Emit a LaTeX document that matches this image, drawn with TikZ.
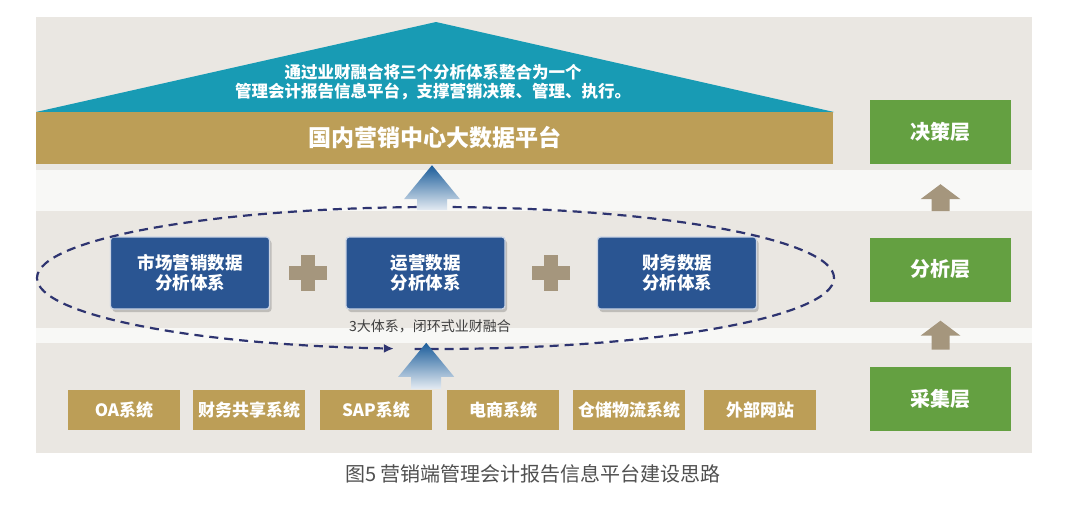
\documentclass[tikz,border=0pt]{standalone}
\usepackage{fontspec}
\setmainfont{Noto Sans CJK SC}
\usetikzlibrary{arrows.meta,shadows,calc}
\definecolor{panelc}{HTML}{EAE7E2}
\definecolor{bandc}{HTML}{F8F8F6}
\definecolor{tealc}{HTML}{189BB4}
\definecolor{goldc}{HTML}{BC9E57}
\definecolor{navyc}{HTML}{2A5592}
\definecolor{greenc}{HTML}{64A041}
\definecolor{taupec}{HTML}{A5967D}
\definecolor{dashc}{HTML}{2E3470}
\definecolor{arrdark}{HTML}{1A5C9A}
\definecolor{arrlight}{HTML}{E4EBF2}
\definecolor{capc}{HTML}{505050}
\newcommand{\blockarrow}[6]{%
  \path[#1] (#2) -- ++({#4},{#3}) -- ++({-(#4)+(#5)},0) -- ++(0,{(#6)-(#3)})
    -- ++({-2*(#5)},0) -- ++(0,{-(#6)+(#3)}) -- ++({-(#4)+(#5)},0) -- cycle;}
\begin{document}
\begin{tikzpicture}[x=1pt,y=-1pt,
  every node/.style={inner sep=0pt},
  platform/.style={fill=goldc, minimum width=797pt, minimum height=52pt, text=white,
     font=\bfseries\fontsize{23}{26}\selectfont},
  anabox/.style={fill=navyc, draw=white!75!navyc, line width=1.3pt, rounded corners=3pt,
     minimum width=159pt, minimum height=72pt, text=white, align=center,
     font=\bfseries\fontsize{17.5}{19.5}\selectfont,
     drop shadow={shadow xshift=2pt, shadow yshift=-3pt, opacity=0.18, fill=black}},
  srcbox/.style={fill=goldc, minimum width=112pt, minimum height=40pt, text=white,
     font=\bfseries\fontsize{17}{19}\selectfont},
  layerbox/.style={fill=greenc, minimum width=141pt, minimum height=64pt, text=white,
     font=\bfseries\fontsize{20}{22}\selectfont},
  loopline/.style={draw=dashc, line width=2.2pt, dash pattern=on 9pt off 6pt},
]
\useasboundingbox (0,0) rectangle (1080,512);
\fill[white] (0,0) rectangle (1080,512);
% panel and bands
\fill[panelc] (36,17) rectangle (1032,453);
\fill[bandc] (36,170) rectangle (1032,211);
\fill[bandc] (36,328) rectangle (1032,343);
% roof
\fill[tealc] (36,112) -- (436,22) -- (834,112) -- cycle;
\node[text=white, align=center, font=\bfseries\fontsize{16.5}{19.5}\selectfont] (roof) at (433,82)
  {通过业财融合将三个分析体系整合为一个\\管理会计报告信息平台，支撑营销决策、管理、执行。};
\node[platform] (platform) at (434.5,138) {国内营销中心大数据平台};
% analysis systems
\node[anabox] (b1) at (190,273) {市场营销数据\\分析体系};
\node[anabox] (b2) at (425.5,273) {运营数据\\分析体系};
\node[anabox] (b3) at (677,273) {财务数据\\分析体系};
\coordinate (p1) at ($(b1.east)!0.5!(b2.west)$);
\coordinate (p2) at ($(b2.east)!0.5!(b3.west)$);
\foreach \p in {p1,p2}{
  \fill[taupec] (\p) ++(-19,-7) rectangle ++(38,14);
  \fill[taupec] (\p) ++(-7,-18) rectangle ++(14,36);
}
% dashed loop
\coordinate (ec) at (435.5,278);
\draw[loopline, -{Latex[length=10pt,width=9pt]}] (ec) ++(267:398.5pt and 71pt)
  arc[start angle=267, end angle=624, x radius=398.5pt, y radius=71pt];
\node[text=capc!80!black, font=\fontsize{14}{16}\selectfont] (lbl) at (430,326) {3大体系，闭环式业财融合};
% source systems
\node[srcbox] (oa) at (124,410) {OA系统};
\node[srcbox] (cw) at (249,410) {财务共享系统};
\node[srcbox] (sap) at (376,410) {SAP系统};
\node[srcbox] (ds) at (503,410) {电商系统};
\node[srcbox] (cc) at (629,410) {仓储物流系统};
\node[srcbox] (wb) at (760,410) {外部网站};
% layers
\node[layerbox] (jc) at (940.5,132) {决策层};
\node[layerbox] (fx) at (940.5,269.5) {分析层};
\node[layerbox] (cj) at (940.5,398.5) {采集层};
% block arrows
\coordinate (t1) at ($(platform.south)+(-2.5,1)$);
\blockarrow{top color=arrdark, bottom color=arrlight}{t1}{34}{28}{15}{45}
\coordinate (t2) at ($(sap.north east)+(-6,-47)$);
\blockarrow{top color=arrdark, bottom color=arrlight}{t2}{34}{28}{15}{46}
\coordinate (t3) at ($(jc.south)+(0,20)$);
\blockarrow{fill=taupec}{t3}{15}{20}{9}{27}
\coordinate (t4) at ($(fx.south)+(0,19)$);
\blockarrow{fill=taupec}{t4}{15}{20}{9}{29}
% caption
\node[text=capc, font=\fontsize{20}{22}\selectfont] (cap) at (533,474) {图5\ 营销端管理会计报告信息平台建设思路};
\end{tikzpicture}
\end{document}
